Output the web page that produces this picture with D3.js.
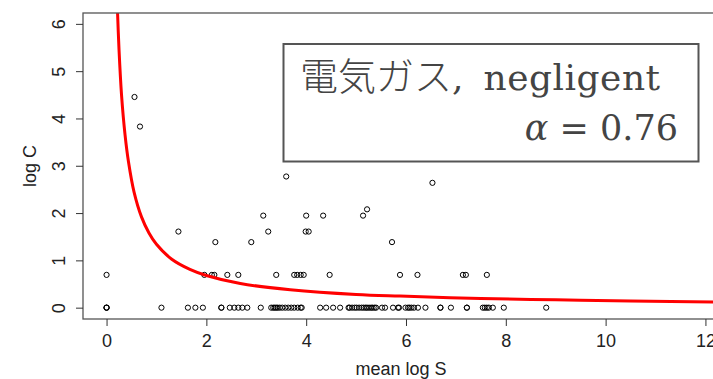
<!DOCTYPE html>
<html>
<head>
<meta charset="utf-8">
<script src="https://cdn.jsdelivr.net/npm/d3@7"></script>
<style>
  html, body { margin: 0; padding: 0; background: #fff; }
  svg { display: block; }
</style>
</head>
<body>
<svg id="chart" width="713" height="379"></svg>
<script>
// Observations: mean log S (x) against log C (y)
const obsX = [
  // log C = 0
  0, 0, 0, 1.10, 1.63, 1.78, 1.93, 2.30, 2.30, 2.47, 2.56, 2.64, 2.72, 2.82,
  3.09, 3.30, 3.34, 3.37, 3.40, 3.43, 3.47, 3.52, 3.58, 3.64, 3.70, 3.76, 3.83,
  3.89, 3.91, 4.28, 4.40, 4.54, 4.68, 4.85, 4.87, 4.92, 4.97, 5.01, 5.06, 5.11,
  5.15, 5.19, 5.22, 5.26, 5.30, 5.33, 5.37, 5.40, 5.52, 5.58, 5.74, 5.84, 5.86,
  5.99, 6.04, 6.07, 6.11, 6.16, 6.24, 6.39, 6.69, 6.69, 6.90, 7.22, 7.22, 7.54,
  7.58, 7.62, 7.66, 7.74, 7.96, 8.81,
  // log C = 0.693
  0, 1.96, 2.11, 2.16, 2.42, 2.64, 3.40, 3.76, 3.82, 3.89, 3.95, 4.47, 5.88,
  6.23, 7.14, 7.20, 7.62,
  // higher counts
  2.18, 2.90, 5.72,
  1.44, 3.24, 3.99, 4.05,
  3.14, 4.00, 4.34, 5.14,
  5.22, 6.53, 3.60, 0.67, 0.56
];
const obsY = [
  0, 0, 0, 0, 0, 0, 0, 0, 0, 0, 0, 0, 0, 0,
  0, 0, 0, 0, 0, 0, 0, 0, 0, 0, 0, 0, 0,
  0, 0, 0, 0, 0, 0, 0, 0, 0, 0, 0, 0, 0,
  0, 0, 0, 0, 0, 0, 0, 0, 0, 0, 0, 0, 0,
  0, 0, 0, 0, 0, 0, 0, 0, 0, 0, 0, 0, 0,
  0, 0, 0, 0, 0, 0,
  0.693, 0.693, 0.693, 0.693, 0.693, 0.693, 0.693, 0.693, 0.693, 0.693, 0.693, 0.693, 0.693,
  0.693, 0.693, 0.693, 0.693,
  1.386, 1.386, 1.386,
  1.609, 1.609, 1.609, 1.609,
  1.946, 1.946, 1.946, 1.946,
  2.079, 2.639, 2.773, 3.829, 4.454
];

// Fitted curve (red), sampled along mean log S
const fitX = [0.19, 0.22, 0.25, 0.30, 0.37, 0.44, 0.55, 0.70, 0.85, 1.00, 1.30, 1.67,
              2.00, 2.68, 3.68, 5.00, 5.88, 7.50, 9.00, 10.5, 12.4];
const fitY = [7.20, 6.25, 5.45, 4.50, 3.66, 3.08, 2.45, 1.92, 1.58, 1.34, 1.03, 0.81,
              0.68, 0.51, 0.38, 0.28, 0.245, 0.195, 0.165, 0.140, 0.118];

const xTicks = [0, 2, 4, 6, 8, 10, 12];
const yTicks = [0, 1, 2, 3, 4, 5, 6];

const titleLabel = "電気ガス";
const titleSuffix = "negligent";
const alphaValue = "0.76";

// ---- layout ----
const svg = d3.select("#chart");
const plot = { left: 83, right: 719, top: 13, bottom: 319 };
const xlim = [0, 11.8], ylim = [0, 5.99];
const xpad = (xlim[1] - xlim[0]) * 0.04, ypad = (ylim[1] - ylim[0]) * 0.04;

const x = d3.scaleLinear().domain([xlim[0] - xpad, xlim[1] + xpad]).range([plot.left, plot.right]);
const y = d3.scaleLinear().domain([ylim[0] - ypad, ylim[1] + ypad]).range([plot.bottom, plot.top]);

svg.append("defs").append("clipPath").attr("id", "plotClip")
  .append("rect")
  .attr("x", plot.left).attr("y", plot.top)
  .attr("width", plot.right - plot.left).attr("height", plot.bottom - plot.top);

// points
svg.append("g")
  .selectAll("circle")
  .data(obsX.map((v, i) => [v, obsY[i]]))
  .join("circle")
  .attr("cx", d => x(d[0]))
  .attr("cy", d => y(d[1]))
  .attr("r", 2.6)
  .attr("fill", "none")
  .attr("stroke", "#000")
  .attr("stroke-width", 1);

// fitted curve
const line = d3.line().x(d => x(d[0])).y(d => y(d[1])).curve(d3.curveCatmullRom);
svg.append("path")
  .datum(fitX.map((v, i) => [v, fitY[i]]))
  .attr("clip-path", "url(#plotClip)")
  .attr("d", line)
  .attr("fill", "none")
  .attr("stroke", "#ff0000")
  .attr("stroke-width", 3);

// frame
svg.append("rect")
  .attr("x", plot.left).attr("y", plot.top)
  .attr("width", plot.right - plot.left).attr("height", plot.bottom - plot.top)
  .attr("fill", "none").attr("stroke", "#555").attr("stroke-width", 1.3);

const fontAxis = "'Liberation Sans', Arial, Helvetica, sans-serif";
const fmt = d3.format("d");

// x axis
const gx = svg.append("g")
  .attr("transform", `translate(0,${plot.bottom})`)
  .call(d3.axisBottom(x).tickValues(xTicks).tickFormat(fmt).tickSize(7).tickPadding(8).tickSizeOuter(0));
gx.select(".domain").remove();
gx.selectAll(".tick line").attr("stroke", "#333").attr("stroke-width", 1);
gx.selectAll(".tick text").attr("font-family", fontAxis).attr("font-size", 18).attr("fill", "#222");

// y axis
const gy = svg.append("g")
  .attr("transform", `translate(${plot.left},0)`)
  .call(d3.axisLeft(y).tickValues(yTicks).tickFormat(fmt).tickSize(7).tickSizeOuter(0));
gy.select(".domain").remove();
gy.selectAll(".tick line").attr("stroke", "#333").attr("stroke-width", 1);
gy.selectAll(".tick text")
  .attr("font-family", fontAxis).attr("font-size", 18).attr("fill", "#222")
  .attr("x", null).attr("dy", null)
  .attr("text-anchor", "middle")
  .attr("transform", "translate(-18,0) rotate(-90)");

// axis titles
svg.append("text")
  .attr("x", (plot.left + plot.right) / 2).attr("y", 375)
  .attr("text-anchor", "middle")
  .attr("font-family", fontAxis).attr("font-size", 18).attr("fill", "#222")
  .text("mean log S");
svg.append("text")
  .attr("transform", `translate(36,${(plot.top + plot.bottom) / 2}) rotate(-90)`)
  .attr("text-anchor", "middle")
  .attr("font-family", fontAxis).attr("font-size", 18).attr("fill", "#222")
  .text("log C");

// legend box
const lg = svg.append("g");
lg.append("rect")
  .attr("x", 283.5).attr("y", 44).attr("width", 415).attr("height", 117.5)
  .attr("fill", "#fff").attr("stroke", "#555").attr("stroke-width", 2);

const serif = "'DejaVu Serif', serif";
const t1 = lg.append("text").attr("x", 300).attr("y", 90).attr("fill", "#444");
t1.append("tspan").attr("font-family", "'Noto Sans CJK JP', sans-serif").attr("font-size", 38).attr("font-weight", 300).text(titleLabel);
t1.append("tspan").attr("font-family", serif).attr("font-size", 36).text(",");
t1.append("tspan").attr("font-family", serif).attr("font-size", 36).attr("dx", 20)
  .attr("letter-spacing", 0.5).text(titleSuffix);

const t2 = lg.append("text").attr("x", 678).attr("y", 140).attr("text-anchor", "end")
  .attr("fill", "#444").attr("font-family", serif).attr("font-size", 35);
t2.append("tspan").attr("font-style", "italic").text("α");
t2.append("tspan").text(" = " + alphaValue);
</script>
</body>
</html>
